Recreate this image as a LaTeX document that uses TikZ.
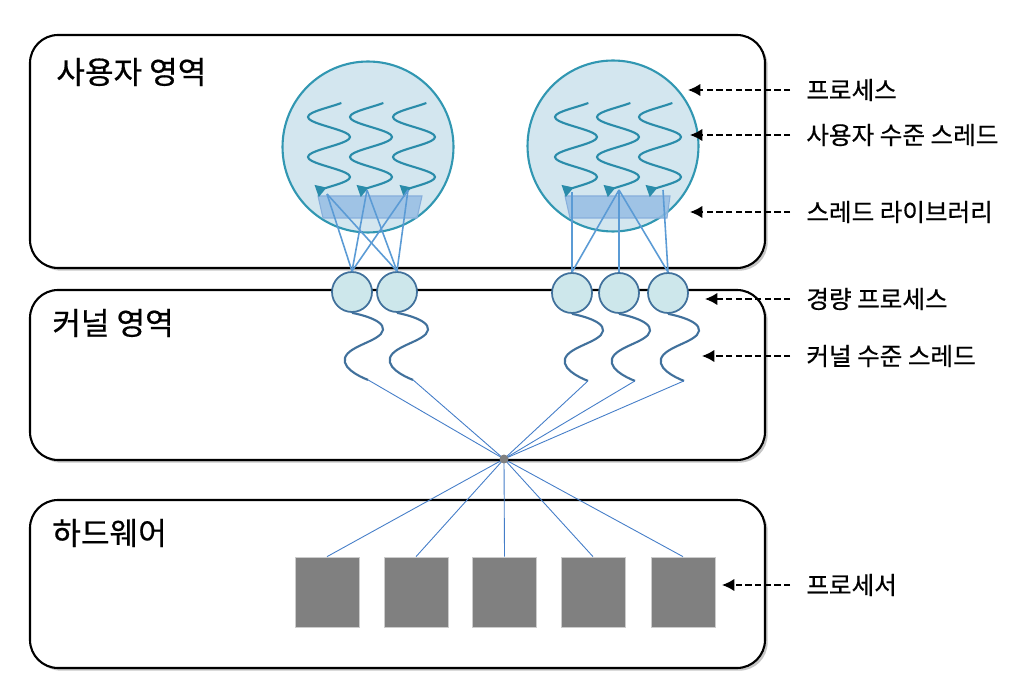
\documentclass[tikz,border=0pt]{standalone}
\usepackage{fontspec}
\setmainfont{Noto Sans CJK KR}[FakeBold=0.5]
\usepackage{tikz}
\usetikzlibrary{shapes, positioning}
\usetikzlibrary{calc}
\usetikzlibrary{arrows.meta}
\usetikzlibrary{shadows}

\definecolor{procfill}{RGB}{211,230,239}
\definecolor{procline}{RGB}{49,151,178}
\definecolor{threadcol}{RGB}{42,140,170}
\definecolor{libfill}{RGB}{150,190,228}
\definecolor{libline}{RGB}{135,175,220}
\definecolor{linkcol}{RGB}{91,155,213}
\definecolor{lwpfill}{RGB}{205,231,235}
\definecolor{lwpline}{RGB}{65,113,156}
\definecolor{wirecol}{RGB}{68,125,200}
\definecolor{cpucol}{RGB}{128,128,128}

\tikzset{
	region/.style={draw=black, line width=1.2pt, fill=white, rounded corners=16pt,
		drop shadow={shadow xshift=1.5pt, shadow yshift=-1.5pt, fill=black!45, opacity=.5}},
	regiontext/.style={anchor=west, inner sep=0pt, font=\fontsize{17.7}{20}\selectfont},
	proc/.style={circle, draw=procline, line width=1.2pt, fill=procfill, minimum size=3.42cm, inner sep=0pt},
	uthread/.style={draw=threadcol, line width=1.2pt, -{Triangle[reversed, length=6pt, width=7pt]}},
	lib/.style={fill=libfill, draw=libline, line width=.6pt, fill opacity=.85},
	link/.style={draw=linkcol, line width=.9pt},
	lwp/.style={circle, draw=lwpline, line width=1pt, fill=lwpfill, minimum size=0.8cm, inner sep=0pt},
	kthread/.style={draw=lwpline, line width=1.2pt},
	wire/.style={draw=wirecol, line width=.5pt},
	hub/.style={circle, fill=cpucol, minimum size=0.18cm, inner sep=0pt},
	cpu/.style={rectangle, fill=cpucol, draw=black!20, line width=.4pt, minimum width=1.28cm, minimum height=1.4cm, inner sep=0pt},
	legend/.style={anchor=west, inner sep=0pt, font=\fontsize{14}{16}\selectfont},
	pointer/.style={->, dash pattern=on 3.5pt off 2pt, line width=.8pt, shorten <=9pt}
}

\begin{document}
\begin{tikzpicture}[x=0.02cm, y=-0.02cm, >={Latex[length=7pt, width=7pt]}]
	\useasboundingbox (0,0) rectangle (1034,695);

	% the three regions
	\draw[region] (30,35) rectangle (765,268);
	\draw[region] (30,290) rectangle (765,460);
	\draw[region] (30,500) rectangle (765,668);

	\node[regiontext] (user) at (56,72) {사용자 영역};
	\node[regiontext] (kernel) at (52,323) {커널 영역};
	\node[regiontext] (hw) at (52,533) {하드웨어};

	% processes
	\node[proc] (proc1) at (368,147) {};
	\node[proc] (proc2) at (613,146) {};

	% thread libraries
	\draw[lib] (318,196) -- (422,196) -- (417,218) -- (323,218) -- cycle;
	\draw[lib] (565,196) -- (670,196) -- (667,218) -- (570,218) -- cycle;

	% user level threads
	\foreach \cx in {329, 371, 414, 576, 618, 660}
		\draw[uthread] plot[smooth, domain=103:191, samples=45] ({\cx-21*sin(9*(\x-107))}, \x);

	\coordinate (ta1) at (327,194);
	\coordinate (ta2) at (367,190);
	\coordinate (ta3) at (408,190);
	\coordinate (tb1) at (572,192);
	\coordinate (tb2) at (619,190);
	\coordinate (tb3) at (663,190);

	% light weight processes
	\node[lwp] (lwp1) at (352,292) {};
	\node[lwp] (lwp2) at (397,292) {};
	\node[lwp] (lwp3) at (572,293) {};
	\node[lwp] (lwp4) at (619,293) {};
	\node[lwp] (lwp5) at (668,293) {};

	% user threads to lwp
	\foreach \t in {ta1, ta2, ta3}
		\foreach \l in {lwp1, lwp2}
			\draw[link] (\t) -- (\l.north);
	\draw[link] (tb1) -- (lwp3.north);
	\foreach \l in {lwp3, lwp4, lwp5}
		\draw[link] (tb2) -- (\l.north);
	\draw[link] (tb3) -- (lwp5.north);

	% kernel level threads
	\coordinate (hub) at (504,459);
	\foreach \i in {1,...,5} {
		\coordinate (kt\i) at ($(lwp\i.south)+(16,67)$);
		\draw[kthread] plot[smooth, tension=.9] coordinates {(lwp\i.south) ($(lwp\i.south)+(31,17)$) ($(lwp\i.south)+(-7,45)$) (kt\i)};
		\draw[wire] (kt\i) -- (hub);
	}

	% processors
	\foreach \x [count=\i] in {327, 416, 504.5, 593, 683} {
		\node[cpu] (cpu\i) at (\x,592) {};
		\draw[wire] (hub) -- (cpu\i.north);
	}
	\node[hub] (hubdot) at (hub) {};

	% legend
	\node[legend] (lproc) at (806,90) {프로세스};
	\node[legend] (lut) at (806,135) {사용자 수준 스레드};
	\node[legend] (llib) at (806,212) {스레드 라이브러리};
	\node[legend] (llwp) at (806,299) {경량 프로세스};
	\node[legend] (lkt) at (806,356) {커널 수준 스레드};
	\node[legend] (lcpu) at (806,585) {프로세서};

	\coordinate (pproc) at (688,90);
	\coordinate (put) at (690,135);
	\coordinate (plib) at (690,212);
	\coordinate (plwp) at (705,299);
	\coordinate (pkt) at (702,356);
	\coordinate (pcpu) at (722,585);

	\draw[pointer] (lproc.west) -- (pproc);
	\draw[pointer] (lut.west) -- (put);
	\draw[pointer] (llib.west) -- (plib);
	\draw[pointer] (llwp.west) -- (plwp);
	\draw[pointer] (lkt.west) -- (pkt);
	\draw[pointer] (lcpu.west) -- (pcpu);

\end{tikzpicture}
\end{document}
